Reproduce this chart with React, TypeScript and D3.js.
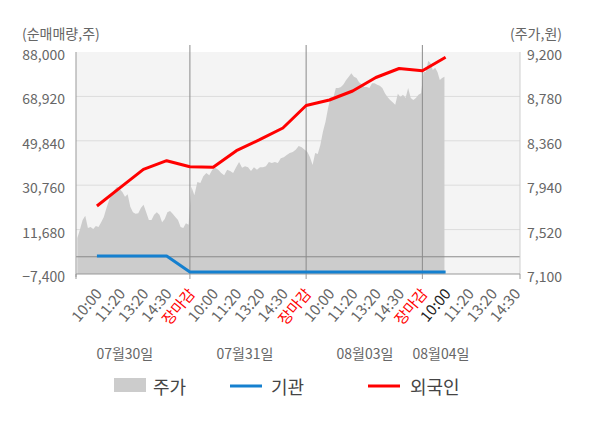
import { useEffect } from 'react';
import * as d3 from 'd3';

// x-axis tick labels (one per hourly slot)
const timeLabels = [
  '10:00', '11:20', '13:20', '14:30', '장마감',
  '10:00', '11:20', '13:20', '14:30', '장마감',
  '10:00', '11:20', '13:20', '14:30', '장마감',
  '10:00', '11:20', '13:20', '14:30',
];
const dates = ['07월30일', '07월31일', '08월03일', '08월04일'];

// intraday price (won), one array per trading day
const priceDay1 = [
  7440, 7520, 7610, 7650, 7535, 7545, 7525, 7555, 7545, 7590, 7640, 7725, 7800, 7865,
  7895, 7925, 7905, 7875, 7830, 7855, 7735, 7685, 7670, 7675, 7725, 7755, 7685, 7610,
  7610, 7660, 7685, 7660, 7590, 7620, 7685, 7695, 7670, 7640, 7610, 7545, 7535, 7580, 7565,
];
const priceDay2 = [
  7925, 7845, 7970, 7960, 8025, 8055, 8035, 8085, 8105, 8085, 8055, 8035, 8085, 8075,
  8055, 8110, 8160, 8105, 8120, 8110, 8075, 8110, 8085, 8110, 8110, 8120, 8160, 8150,
  8160, 8150, 8195, 8205, 8225, 8245, 8255, 8275, 8310, 8300, 8275,
];
const priceDay3 = [
  8255, 8205, 8130, 8245, 8235, 8320, 8445, 8540, 8670, 8775, 8765, 8860, 8860, 8870,
  8895, 8935, 8965, 9000, 8965, 8955, 8915, 8895, 8870, 8870, 8860, 8905, 8905, 8890,
  8880, 8860, 8810, 8775, 8745, 8725, 8700, 8805, 8775, 8795, 8765, 8860, 8765, 8745,
  8765, 8795, 8810,
];
const priceDay4 = [9010, 9010, 9115, 9095, 9030, 9050, 9010, 8935, 8955, 8965];

// cumulative net buying (shares), one value per slot
const institution = [
  330, 330, 330, 330, -6560, -6560, -6560, -6560,
  -6560, -6560, -6560, -6560, -6560, -6560, -6560, -6560,
];
const foreigner = [
  21820, 29730, 37590, 41290, 38710, 38450, 45580, 50310,
  55340, 65000, 67370, 71240, 77040, 80900, 79960, 85720,
];

const leftTicks = [-7400, 11680, 30760, 49840, 68920, 88000];
const rightTicks = [7100, 7520, 7940, 8360, 8780, 9200];

const FONT = '"Noto Sans CJK KR", "Noto Sans", sans-serif';

export default function App() {
  useEffect(() => {
    document.body.style.margin = '0';
  }, []);

  const left = 76, right = 520, top = 52, bottom = 274;

  const x = d3.scaleLinear().domain([-0.9, 18.2]).range([left, right]);
  const yL = d3.scaleLinear().domain([-7400, 88000]).range([bottom, top]);
  const yR = d3.scaleLinear().domain([7100, 9200]).range([bottom, top]);

  // each day occupies a span of slots on the x axis
  const days = [
    { values: priceDay1, from: -0.9, to: 4 },
    { values: priceDay2, from: 4, to: 9 },
    { values: priceDay3, from: 9, to: 14 },
    { values: priceDay4, from: 14, to: 15 },
  ];
  const pricePts: [number, number][] = [];
  days.forEach(d => {
    const step = (d.to - d.from) / d.values.length;
    d.values.forEach((v, i) => pricePts.push([d.from + (i + 0.5) * step, v]));
  });

  const area = d3.area<[number, number]>()
    .x(d => x(d[0]))
    .y0(bottom)
    .y1(d => yR(d[1]));

  const line = d3.line<number>()
    .x((_, i) => x(i))
    .y(d => yL(d));

  const dayEnds = [4, 9, 14];
  const dateCenters = [1.2, 6.37, 11.53, 14.8];

  return (
    <div style={{ position: 'absolute', left: 0, top: 0 }}>
      <svg width={600} height={428} style={{ display: 'block', fontFamily: FONT }}>
        <rect x={left} y={top} width={right - left} height={bottom - top} fill="#f4f4f4" />

        {leftTicks.slice(1, -1).map(t => (
          <line key={t} x1={left} x2={right} y1={yL(t)} y2={yL(t)} stroke="#dcdcdc" />
        ))}

        <path d={area(pricePts) ?? ''} fill="#cccccc" />

        {dayEnds.map(k => (
          <line key={k} x1={x(k)} x2={x(k)} y1={45} y2={bottom} stroke="#8a8a8a" />
        ))}

        <line x1={left} x2={right} y1={yL(0)} y2={yL(0)} stroke="#8a8a8a" />

        <line x1={left} x2={left} y1={top} y2={bottom + 3} stroke="#999" />
        <line x1={right} x2={right} y1={top} y2={bottom} stroke="#cfcfcf" />
        <line x1={left} x2={right} y1={bottom} y2={bottom} stroke="#999" />
        {[left, ...dayEnds.map(k => x(k)), right].map((px, i) => (
          <line key={i} x1={px} x2={px} y1={bottom} y2={bottom + 5} stroke="#999" />
        ))}

        <path d={line(institution) ?? ''} fill="none" stroke="#1580cf" strokeWidth={3} strokeLinejoin="round" />
        <path d={line(foreigner) ?? ''} fill="none" stroke="#ff0000" strokeWidth={3} strokeLinejoin="round" />

        {leftTicks.map(t => (
          <text key={t} x={65} y={yL(t) + 2} textAnchor="end" dominantBaseline="central"
            fontSize={14} fill="#666">{d3.format(',')(t)}</text>
        ))}
        {rightTicks.map(t => (
          <text key={t} x={527} y={yR(t) + 2} dominantBaseline="central"
            fontSize={14} fill="#666">{d3.format(',')(t)}</text>
        ))}
        <text x={22} y={33} dominantBaseline="central" fontSize={14} fill="#666">(순매매량,주)</text>
        <text x={562} y={33} textAnchor="end" dominantBaseline="central" fontSize={14} fill="#666">(주가,원)</text>

        {timeLabels.map((t, i) => (
          <text key={i} transform={`translate(${x(i) + 1},290) rotate(-50)`}
            textAnchor="end" dominantBaseline="central" fontSize={15}
            fill={t === '장마감' ? '#ff0000' : i === 15 ? '#222' : '#666'}>{t}</text>
        ))}

        {dates.map((d, i) => (
          <text key={d} x={x(dateCenters[i])} y={353} textAnchor="middle" dominantBaseline="central"
            fontSize={14} fill="#666">{d}</text>
        ))}

        <rect x={114} y={378} width={32} height={14} fill="#cccccc" />
        <text x={153} y={386} dominantBaseline="central" fontSize={18} fill="#444">주가</text>
        <line x1={230} x2={262} y1={386} y2={386} stroke="#1580cf" strokeWidth={3} />
        <text x={271} y={386} dominantBaseline="central" fontSize={18} fill="#444">기관</text>
        <line x1={368} x2={400} y1={386} y2={386} stroke="#ff0000" strokeWidth={3} />
        <text x={410} y={386} dominantBaseline="central" fontSize={18} fill="#444">외국인</text>
      </svg>
    </div>
  );
}
